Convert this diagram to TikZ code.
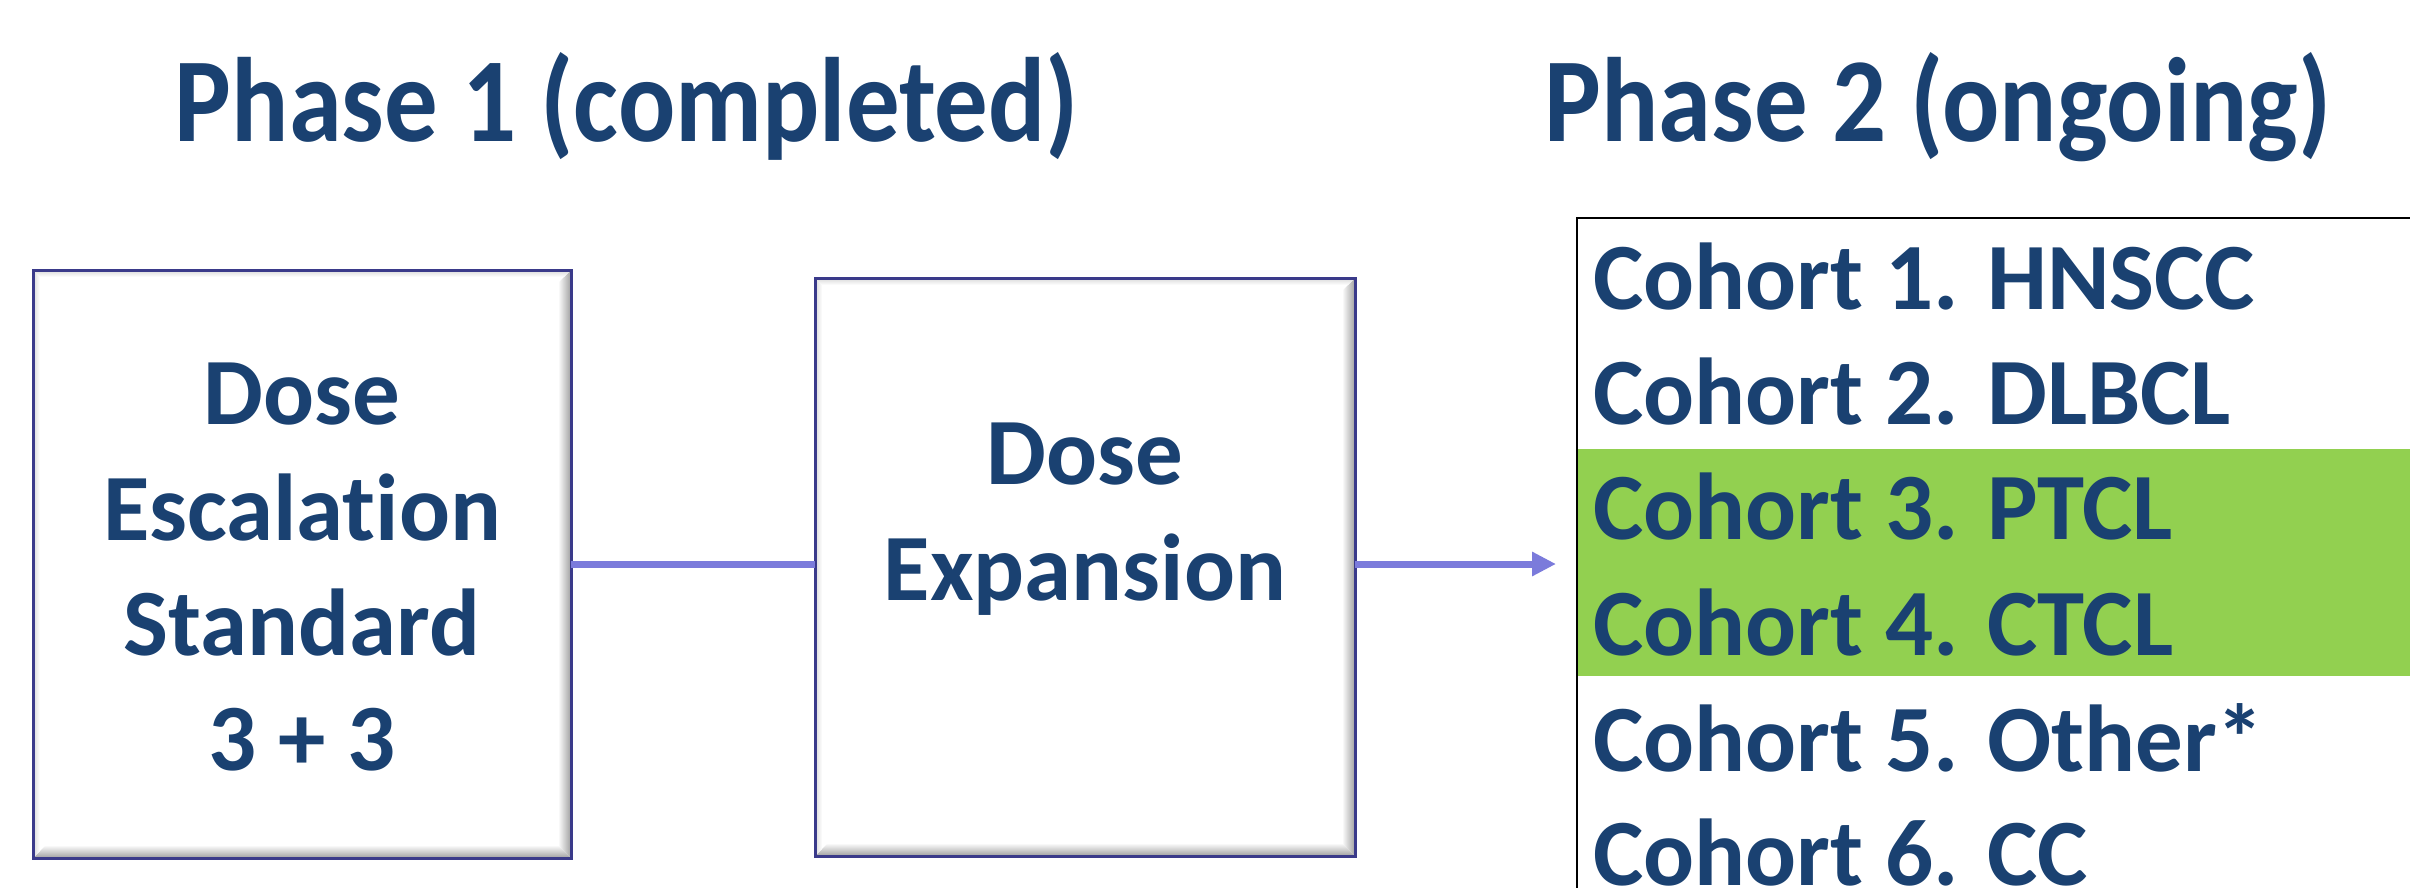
\documentclass[tikz,border=0pt]{standalone}
\usepackage{fontspec}
\setmainfont{Carlito}[RawFeature={-liga}]
\usetikzlibrary{arrows.meta,calc}

\definecolor{navytext}{RGB}{26,65,113}
\definecolor{boxline}{RGB}{58,58,138}
\definecolor{flowline}{RGB}{123,123,219}
\definecolor{hlgreen}{RGB}{146,208,80}

% bevelled panel: #1,#2 = top-left corner, #3,#4 = bottom-right corner (px)
\newcommand\bevelpanel[4]{%
  \fill[white] (#1,#2) rectangle (#3,#4);
  \shade[left color=white,right color=gray!75] (#3-13,#2+13) -- (#3,#2) -- (#3,#4) -- (#3-13,#4-13) -- cycle;
  \shade[top color=white,bottom color=gray!75] (#1,#4) -- (#1+13,#4-13) -- (#3-13,#4-13) -- (#3,#4) -- cycle;
  \shade[left color=gray!30,right color=white] (#1,#2) -- (#1+7,#2+7) -- (#1+7,#4-7) -- (#1,#4) -- cycle;
  \shade[top color=gray!30,bottom color=white] (#1,#2) -- (#3,#2) -- (#3-7,#2+7) -- (#1+7,#2+7) -- cycle;
}
% headings are set slightly condensed
\newcommand\condensed[1]{\scalebox{0.89}[1]{#1}}

\tikzset{
  x=0.5pt, y=-0.5pt,
  heading/.style={text=navytext, font=\fontsize{60}{70}\selectfont\bfseries, anchor=base, inner sep=0},
  boxtext/.style={text=navytext, font=\fontsize{47.5}{57.5}\selectfont\bfseries, anchor=base, inner sep=0},
  cohort/.style={text=navytext, font=\fontsize{47.5}{57.5}\selectfont\bfseries, anchor=base west, inner sep=0},
  stagebox/.style={draw=boxline, line width=1.5pt, inner sep=0, outer sep=0, rectangle},
  flow/.style={draw=flowline, line width=3.5pt},
}

\begin{document}
\begin{tikzpicture}
\useasboundingbox (0,0) rectangle (2410,888);
\fill[white] (0,0) rectangle (2410,888);

% headings
\node[heading] (h1) at (627,141) {\condensed{Phase 1 (completed)}};
\node[heading] (h2) at (1938,141) {\condensed{Phase 2 (ongoing)}};

% phase 1 stages
\bevelpanel{33}{270}{571}{858}
\node[stagebox, minimum width=269pt, minimum height=294pt] (esc) at (302,564) {};
\bevelpanel{815}{278}{1355}{856}
\node[stagebox, minimum width=270pt, minimum height=289pt] (exp) at (1085,567) {};

\node[boxtext] (e1) at (302,424) {Dose};
\node[boxtext] (e2) at (302,540) {Escalation};
\node[boxtext] (e3) at (302,655) {Standard};
\node[boxtext] (e4) at (302,770) {3 + 3};

\node[boxtext] (x1) at (1085,484) {Dose};
\node[boxtext] (x2) at (1085,600) {Expansion};

% connectors
\coordinate (tip) at (1556,564);
\draw[flow] (esc.east |- 0,564) -- (exp.west |- 0,564);
\draw[flow, -{Triangle[length=12pt,width=11.5pt]}] (exp.east |- tip) -- (tip);

% phase 2 cohort list
\fill[hlgreen] (1578,449) rectangle (2410,676);
\node[draw=black, line width=1.2pt, inner sep=0, outer sep=0, minimum width=430pt, minimum height=350pt, anchor=north west] (list) at (1577,218) {};

\node[cohort] (c1) at (1593,309) {Cohort 1. HNSCC};
\node[cohort] (c2) at (1593,424) {Cohort 2. DLBCL};
\node[cohort] (c3) at (1593,539) {Cohort 3. PTCL};
\node[cohort] (c4) at (1593,655) {Cohort 4. CTCL};
\node[cohort] (c5) at (1593,771) {Cohort 5. Other*};
\node[cohort] (c6) at (1593,885) {Cohort 6. CC};
\end{tikzpicture}
\end{document}
